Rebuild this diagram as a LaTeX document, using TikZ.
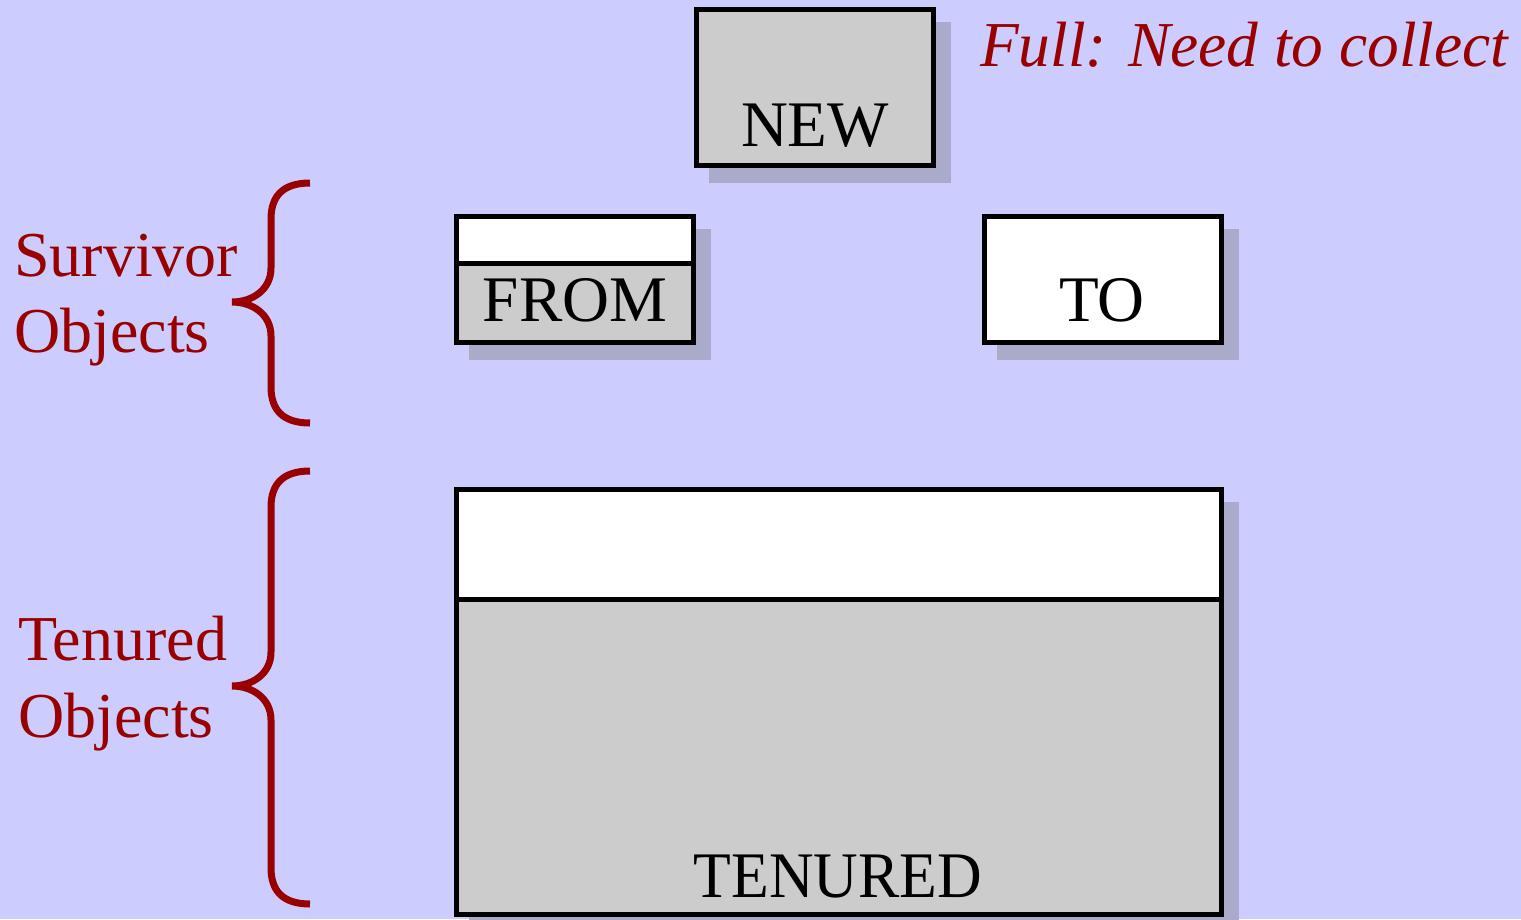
\documentclass[tikz,border=0pt]{standalone}
\usepackage{fontspec}
\setmainfont{Liberation Serif}
\definecolor{bgc}{HTML}{CCCCFF}
\definecolor{grayc}{HTML}{CCCCCC}
\definecolor{shadowc}{HTML}{AAAACA}
\definecolor{darkred}{HTML}{990000}
\newcommand{\bracepath}[3]{%
  (310,#1) .. controls (282,#1) and (271,#1+14) .. (271,#1+36)
  -- (271,#2-34) .. controls (271,#2-12) and (252,#2) .. (232,#2)
  .. controls (252,#2) and (271,#2+12) .. (271,#2+34)
  -- (271,#3-36) .. controls (271,#3-14) and (282,#3) .. (310,#3)}
\begin{document}
\begin{tikzpicture}[x=1pt,y=-1pt,
  box/.style={draw=black, line width=5pt, inner sep=0pt, outer sep=0pt, anchor=north west},
  divider/.style={draw=black, line width=5pt},
  shade/.style={fill=shadowc},
  lbl/.style={font=\fontsize{65}{75}\selectfont, inner sep=0pt, anchor=base},
  redlbl/.style={font=\fontsize{64}{74}\selectfont, inner sep=0pt, anchor=base west, text=darkred},
  bracestyle/.style={draw=darkred, line width=7pt}]
\fill[bgc] (0,0) rectangle (1521,919);
\useasboundingbox (0,0) rectangle (1521,919);
% shadows
\fill[shade] (709,22) rectangle (951,183);
\fill[shade] (469,229) rectangle (711,360);
\fill[shade] (997,229) rectangle (1239,360);
\fill[shade] (469,502) rectangle (1239,932);
% NEW
\node[box, fill=grayc, minimum width=237pt, minimum height=156pt] (new) at (696.5,9.5) {};
\node[lbl] (newt) at (815,146) {NEW};
% FROM
\node[box, fill=grayc, minimum width=237pt, minimum height=126pt] (from) at (456.5,216.5) {};
\fill[white] (456.5,216.5) rectangle (693.5,263);
\coordinate (fromdl) at (456.5,263);
\coordinate (fromdr) at (693.5,263);
\draw[divider] (fromdl) -- (fromdr);
\draw[line width=5pt] (from.north west) rectangle (from.south east);
\node[lbl] (fromt) at (575,321) {FROM};
% TO
\node[box, fill=white, minimum width=237pt, minimum height=126pt] (to) at (984.5,216.5) {};
\node[lbl] (tot) at (1102,321) {TO};
% TENURED
\node[box, fill=grayc, minimum width=765pt, minimum height=425pt] (ten) at (456.5,489.5) {};
\fill[white] (456.5,489.5) rectangle (1221.5,599);
\coordinate (tendl) at (456.5,599);
\coordinate (tendr) at (1221.5,599);
\draw[divider] (tendl) -- (tendr);
\draw[line width=5pt] (ten.north west) rectangle (ten.south east);
\node[lbl, xscale=0.95] (tent) at (838,897) {TENURED};
% annotation
\node[redlbl, font=\fontsize{64}{74}\selectfont\itshape, xscale=0.99] (full) at (980,66) {Full: Need to collect};
% braces
\draw[bracestyle] \bracepath{183}{302}{423};
\draw[bracestyle] \bracepath{471}{686}{904};
% brace labels
\node[redlbl] (surv) at (14,276) {Survivor};
\node[redlbl] (survobj) at (14,352) {Objects};
\node[redlbl] (tenl) at (18,660) {Tenured};
\node[redlbl] (tenobj) at (18,737) {Objects};
\end{tikzpicture}
\end{document}
